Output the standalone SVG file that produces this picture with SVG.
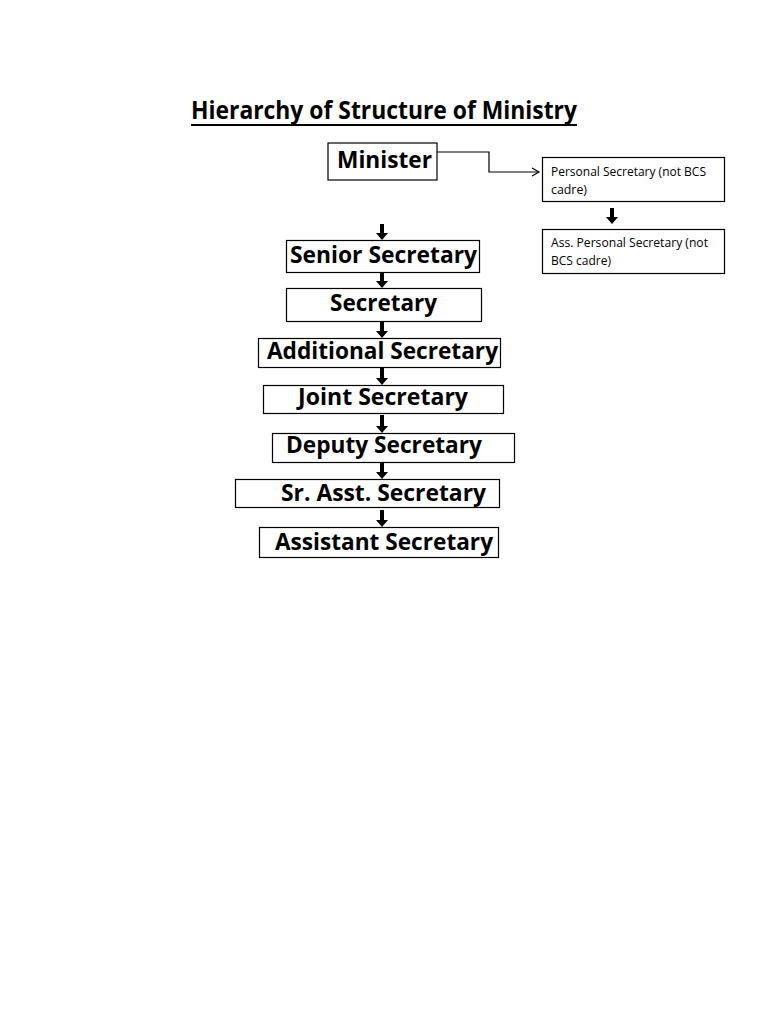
<svg xmlns="http://www.w3.org/2000/svg" width="768" height="1024" viewBox="0 0 768 1024">
<style>
.box{fill:#fff;stroke:#000;stroke-width:1.2}
.big{font-family:"Open Sans","Liberation Sans",sans-serif;font-weight:bold;font-size:24px;fill:#000}
.small{font-family:"Open Sans","Liberation Sans",sans-serif;font-size:12px;fill:#000}
.title{font-family:"Open Sans","Liberation Sans",sans-serif;font-weight:bold;font-size:25px;fill:#000}
.arr{fill:#000;stroke:none}
.conn{fill:none;stroke:#000;stroke-width:1.2}
</style>
<defs>
<marker id="open" markerWidth="10" markerHeight="10" refX="8" refY="5" orient="auto" markerUnits="userSpaceOnUse">
<path d="M1,1 L8,5 L1,9" fill="none" stroke="#000" stroke-width="1.2"/>
</marker>
</defs>
<rect width="768" height="1024" fill="#fff"/>
<g id="title">
<text class="title" x="191" y="119" textLength="386" lengthAdjust="spacingAndGlyphs">Hierarchy of Structure of Ministry</text>
<line x1="191" y1="125" x2="577" y2="125" stroke="#000" stroke-width="2"/>
</g>
<g id="minister">
<rect class="box" x="328" y="143" width="109" height="37"/>
<text class="big" x="337" y="168" font-size="26" textLength="95" lengthAdjust="spacingAndGlyphs">Minister</text>
</g>
<g id="ps">
<rect class="box" x="542.5" y="157.5" width="182" height="44"/>
<text class="small" x="551" y="176" textLength="155" lengthAdjust="spacingAndGlyphs">Personal Secretary (not BCS</text>
<text class="small" x="551" y="194" textLength="36" lengthAdjust="spacingAndGlyphs">cadre)</text>
</g>
<g id="aps">
<rect class="box" x="542.5" y="229.5" width="182" height="44"/>
<text class="small" x="551" y="247" textLength="157" lengthAdjust="spacingAndGlyphs">Ass. Personal Secretary (not</text>
<text class="small" x="551" y="265" textLength="60" lengthAdjust="spacingAndGlyphs">BCS cadre)</text>
</g>
<g id="senior">
<rect class="box" x="286.5" y="240.5" width="193" height="32"/>
<text class="big" x="290" y="263" textLength="187" lengthAdjust="spacingAndGlyphs">Senior Secretary</text>
</g>
<g id="secretary">
<rect class="box" x="286.5" y="288.5" width="195" height="33"/>
<text class="big" x="330" y="311" textLength="107" lengthAdjust="spacingAndGlyphs">Secretary</text>
</g>
<g id="additional">
<rect class="box" x="258.5" y="338.5" width="242" height="29"/>
<text class="big" x="267" y="359" textLength="231" lengthAdjust="spacingAndGlyphs">Additional Secretary</text>
</g>
<g id="joint">
<rect class="box" x="263.5" y="385.5" width="240" height="28"/>
<text class="big" x="298" y="405" textLength="170" lengthAdjust="spacingAndGlyphs">Joint Secretary</text>
</g>
<g id="deputy">
<rect class="box" x="272.5" y="433.5" width="242" height="29"/>
<text class="big" x="286" y="453" textLength="196" lengthAdjust="spacingAndGlyphs">Deputy Secretary</text>
</g>
<g id="srasst">
<rect class="box" x="235.5" y="479.5" width="264" height="28"/>
<text class="big" x="281" y="501" textLength="205" lengthAdjust="spacingAndGlyphs">Sr. Asst. Secretary</text>
</g>
<g id="assistant">
<rect class="box" x="259.5" y="527.5" width="239" height="30"/>
<text class="big" x="275" y="550" textLength="218" lengthAdjust="spacingAndGlyphs">Assistant Secretary</text>
</g>
<g id="connectors">
<path class="conn" d="M437,152 H489 V172 H539" marker-end="url(#open)"/>
<path class="arr" d="M610,208 h4 v9 h4 l-6,7 l-6,-7 h4 z"/>
<path class="arr" d="M380,224 h4 v9 h4 l-6,7 l-6,-7 h4 z"/>
<path class="arr" d="M380,272 h4 v9 h4 l-6,7 l-6,-7 h4 z"/>
<path class="arr" d="M380,322 h4 v9 h4 l-6,7 l-6,-7 h4 z"/>
<path class="arr" d="M380,368 h4 v10 h4 l-6,7 l-6,-7 h4 z"/>
<path class="arr" d="M380,415 h4 v11 h4 l-6,7 l-6,-7 h4 z"/>
<path class="arr" d="M380,463 h4 v9 h4 l-6,7 l-6,-7 h4 z"/>
<path class="arr" d="M380,510 h4 v10 h4 l-6,7 l-6,-7 h4 z"/>
</g>
</svg>
